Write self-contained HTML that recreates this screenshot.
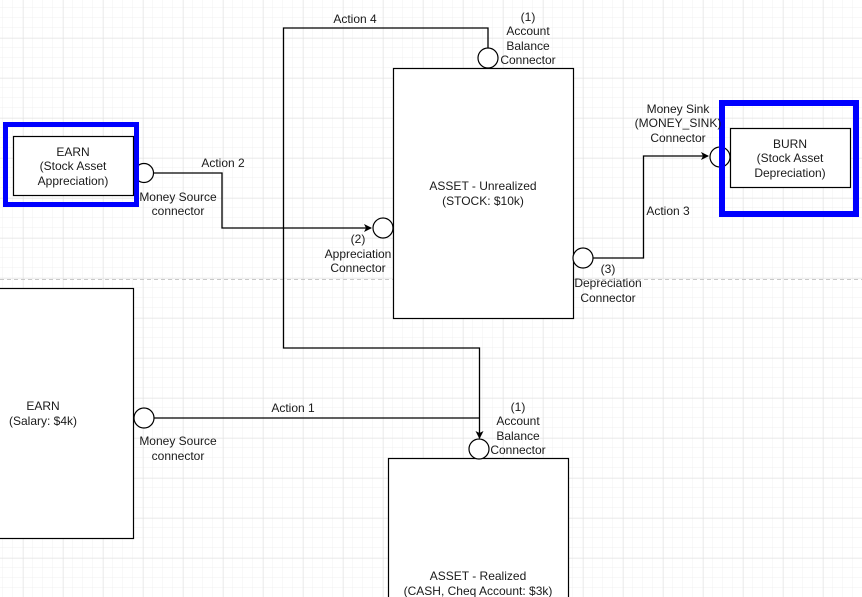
<!DOCTYPE html>
<html><head><meta charset="utf-8"><style>
html,body{margin:0;padding:0;background:#fff;}
svg{display:block;}
text{font-family:"Liberation Sans",sans-serif;font-size:12px;fill:#1a1a1a;text-anchor:middle;}
</style></head><body>
<svg width="862" height="597" viewBox="0 0 862 597" xmlns="http://www.w3.org/2000/svg">
<defs>
<pattern id="minor" width="10" height="10" patternUnits="userSpaceOnUse" x="3" y="8">
<path d="M10 0V10M0 10H10" stroke="#f1f1f1" stroke-width="1" fill="none"/>
</pattern>
<pattern id="major" width="40" height="40" patternUnits="userSpaceOnUse" x="23.5" y="38.5">
<path d="M0 0V40M0 0H40" stroke="#e0e0e0" stroke-width="1" fill="none"/>
</pattern>
<marker id="ar" markerWidth="8" markerHeight="8" refX="7" refY="4" orient="auto" markerUnits="userSpaceOnUse">
<path d="M0,0 L8,4 L0,8 L2,4 Z" fill="#000"/>
</marker>
</defs>
<rect width="862" height="597" fill="url(#minor)"/>
<rect width="862" height="597" fill="url(#major)"/>
<line x1="0" y1="279.5" x2="862" y2="279.5" stroke="#c8c8c8" stroke-dasharray="4,3"/>

<g fill="none" stroke="#000" stroke-width="1.3">
<polyline points="153,173 222,173 222,228 371,228" marker-end="url(#ar)"/>
<polyline points="488,48 488,28 283.5,28 283.5,348 479.5,348 479.5,438" marker-end="url(#ar)"/>
<polyline points="154,418 479.5,418"/>
<polyline points="593,258 643.5,258 643.5,156 708,156" marker-end="url(#ar)"/>
</g>

<rect x="393.5" y="68.5" width="180" height="250" fill="#fff" stroke="#000" stroke-width="1.2"/>
<rect x="-1" y="288.5" width="134.5" height="250" fill="#fff" stroke="#000" stroke-width="1.2"/>
<rect x="388.5" y="458.5" width="180" height="150" fill="#fff" stroke="#000" stroke-width="1.2"/>

<g fill="#fff" stroke="#000" stroke-width="1.2">
<circle cx="144" cy="173" r="9.5"/>
<circle cx="383" cy="228" r="10"/>
<circle cx="488" cy="58" r="10"/>
<circle cx="583" cy="258" r="10"/>
<circle cx="720" cy="157" r="10"/>
<circle cx="144" cy="418" r="10"/>
<circle cx="479" cy="449" r="10"/>
</g>

<rect x="5.5" y="124.5" width="131" height="80" fill="none" stroke="#0000ff" stroke-width="5"/>
<rect x="13.5" y="136.5" width="120" height="59" fill="#fff" stroke="#000" stroke-width="1.2"/>
<rect x="722" y="103" width="134" height="111" fill="none" stroke="#0000ff" stroke-width="6"/>
<rect x="730.5" y="128.5" width="120" height="59" fill="#fff" stroke="#000" stroke-width="1.2"/>

<text x="73" y="156">EARN</text>
<text x="73" y="170">(Stock Asset</text>
<text x="73" y="185">Appreciation)</text>
<text x="178" y="201">Money Source</text>
<text x="178" y="215">connector</text>
<text x="223" y="167">Action 2</text>
<text x="355" y="23">Action 4</text>
<text x="528" y="21">(1)</text>
<text x="528" y="35">Account</text>
<text x="528" y="50">Balance</text>
<text x="528" y="64">Connector</text>
<text x="483" y="190">ASSET - Unrealized</text>
<text x="483" y="205">(STOCK: $10k)</text>
<text x="358" y="243">(2)</text>
<text x="358" y="258">Appreciation</text>
<text x="358" y="272">Connector</text>
<text x="608" y="273">(3)</text>
<text x="608" y="287">Depreciation</text>
<text x="608" y="302">Connector</text>
<text x="678" y="113">Money Sink</text>
<text x="678" y="127">(MONEY_SINK)</text>
<text x="678" y="142">Connector</text>
<text x="668" y="215">Action 3</text>
<text x="790" y="148">BURN</text>
<text x="790" y="162">(Stock Asset</text>
<text x="790" y="177">Depreciation)</text>
<text x="43" y="410">EARN</text>
<text x="43" y="425">(Salary: $4k)</text>
<text x="178" y="445">Money Source</text>
<text x="178" y="460">connector</text>
<text x="293" y="412">Action 1</text>
<text x="518" y="411">(1)</text>
<text x="518" y="425">Account</text>
<text x="518" y="440">Balance</text>
<text x="518" y="454">Connector</text>
<text x="478" y="580">ASSET - Realized</text>
<text x="478" y="595">(CASH, Cheq Account: $3k)</text>
</svg>
</body></html>
